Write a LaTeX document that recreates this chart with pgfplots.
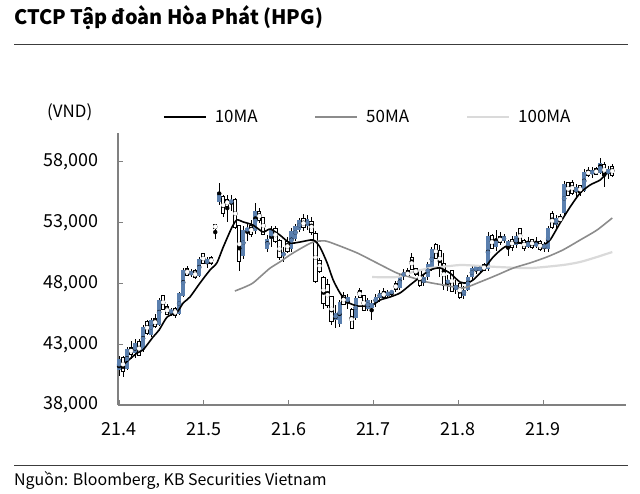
\documentclass[border=0pt]{standalone}
\usepackage{fontspec}
\setmainfont{Noto Sans CJK KR}
\usepackage{pgfplots}
\pgfplotsset{compat=1.18}
\usepackage{pgfplotstable}

\definecolor{candleblue}{RGB}{90,127,174}
\definecolor{maB}{RGB}{140,140,140}
\definecolor{maC}{RGB}{218,218,218}
\definecolor{axisgray}{RGB}{128,128,128}
\definecolor{rulegray}{RGB}{60,60,60}

% daily candles: trading day, open, high, low, close
\pgfplotstableread{
d o h l c
0 40900 42000 40400 41800
1 41800 42000 40300 40900
2 41000 42800 40900 42600
3 42600 43300 41800 42300
4 42300 43400 41900 43100
5 43100 43400 42000 42200
6 42500 44600 42400 44400
7 44700 45000 43800 44000
8 43800 45200 43600 45000
9 45000 45500 44300 44600
10 44600 46800 44500 46600
11 46900 47000 45800 46000
12 46000 46300 45400 45600
13 45600 46000 45300 45800
14 45800 46100 45200 45500
15 45500 47300 45400 47200
16 47000 49300 46900 49100
17 49100 49400 48600 48800
18 48800 49200 48500 48900
19 48900 49200 48400 48600
20 48600 50200 48500 50000
21 50300 50500 49600 49800
22 49600 50200 49300 50000
23 50000 50300 49500 49800
24 52700 52750 51700 52650
25 54700 56300 54500 55500
26 55000 55300 53500 53900
27 54800 55300 53100 54500
28 54600 55300 54000 54900
29 54800 55000 52500 52700
30 52600 52800 49000 49900
31 50300 52700 50000 52400
32 52300 53000 51500 52600
33 52600 53200 51800 52200
34 52300 54600 52100 54000
35 53800 54200 53000 53300
36 53300 53500 52000 52200
37 50800 52000 50600 51700
38 51700 52700 51000 52400
39 52400 52700 51300 51600
40 51400 51700 49900 50300
41 50300 51000 49800 50500
42 51300 51800 50500 50800
43 50800 52600 50600 52300
44 51700 52900 51500 52700
45 52400 53400 52200 53200
46 53200 53700 52300 52700
47 52700 53600 52400 53300
48 53000 53500 52000 52300
49 52000 52300 48000 48300
50 49800 50100 48900 49100
51 48400 48600 45900 46500
52 47800 48400 46000 46300
53 46800 47000 44600 45000
54 45000 46200 44300 45600
55 44700 46600 44400 46500
56 46900 47300 46200 46400
57 46400 47100 45900 46900
58 45700 46000 44300 44400
59 45200 47000 45000 46800
60 47300 47600 46900 47000
61 46900 47000 45800 45900
62 45900 46800 45700 46600
63 46000 46600 45000 46400
64 46400 47100 46100 46900
65 46800 47500 46500 47200
66 47200 47600 46800 47000
67 47000 47500 46800 47300
68 47200 47500 46900 47400
69 47900 48200 47300 47600
70 47600 48800 47500 48600
71 48600 49200 48300 48900
72 48900 49300 48500 48700
73 50000 50500 49100 49300
74 49100 49300 48600 48900
75 48900 49000 47700 48000
76 48000 48700 47800 48500
77 48500 49800 48300 49600
78 49200 51000 49000 50800
79 51100 51300 50000 50200
80 50600 51200 48500 49500
81 49500 50500 47500 48000
82 48000 48700 47400 48300
83 48900 49100 47300 47500
84 47500 48300 47100 47900
85 47900 48000 46700 47000
86 47000 47800 46700 47500
87 47500 48700 47400 48500
88 48500 49500 48300 49300
89 49000 49500 48800 49400
90 49000 49500 48900 49400
91 49400 49700 49000 49200
92 49200 52200 49000 51900
93 51800 52100 50800 51000
94 51000 52400 50700 51700
95 51700 52200 51200 51500
96 51500 52100 51300 51900
97 51000 51600 50300 51500
98 51500 51900 50700 51100
99 51200 52200 50900 51900
100 52400 52600 51300 51400
101 51400 51700 50700 51000
102 51000 51800 50900 51500
103 51500 51700 50800 51100
104 51100 51800 50900 51300
105 51300 51600 50700 50900
106 50900 51400 50600 51200
107 50800 52700 50600 52600
108 53600 54000 52500 52700
109 52800 53600 52500 53400
110 53400 53700 53000 53200
111 53800 56400 53600 56200
112 56200 56300 55200 55400
113 56200 56500 55300 55500
114 55500 56200 55100 55900
115 55900 56100 55200 55600
116 55600 57400 55500 57200
117 57200 57600 56800 57000
118 57000 57600 56700 57300
119 57300 57600 56900 57100
120 57100 58300 57000 57900
121 57700 58000 55900 57000
122 57000 57700 56600 57400
123 57500 57800 56800 57000
}\candles

\pgfplotstableread{
d v
1 41300
4.5 42280
6 42530
8.5 43600
10 44170
12 45240
14.5 45650
16 46390
17.7 46890
20.2 48040
22.7 49110
24.4 49690
26 51000
28.2 52650
29.4 53230
31 53060
33.4 52810
35.9 52240
37.7 52480
40.1 51990
42.6 51330
45.1 51410
48.4 51580
50.1 51000
51.9 49690
53.4 48290
55.1 47220
56.9 46480
59.4 46150
61.8 46150
63.3 46230
65.1 46640
67.6 46890
70.1 47220
72.6 47880
75.1 48530
77.6 49110
80.0 49280
82.5 48860
85.0 48120
86.8 48040
88.3 48290
90.8 49110
93.3 50180
95.8 50920
98.3 51330
100.7 51330
103.2 51170
105.7 51170
107.5 51580
110 52980
112.5 54300
115 55450
117.5 56110
120 56520
121.7 57090
123 57180
}\maten

\pgfplotstableread{
d v
28.9 47380
31.4 47710
33.4 48040
35.7 48700
37.7 49270
40.1 49770
42.6 50340
45.1 50840
48.4 51410
51.4 51500
54.4 51170
59.4 50510
64.3 49690
69.3 48860
72.6 48530
76.8 48120
80.8 47880
85.8 47630
90 48120
94.3 48700
98.3 49270
102.5 49690
106.7 50180
110.7 50760
115 51580
119.2 52400
123 53390
}\mafifty

\pgfplotstableread{
d v
63.1 48530
69.3 48530
73.3 48950
77.6 49270
82.5 49440
85.8 49520
94.3 49360
102.5 49270
110.7 49520
115 49770
119.2 50180
123 50590
}\mahundred

\begin{document}
\begin{tikzpicture}
\path[use as bounding box] (0,0) rectangle (640bp,494bp);
\node[anchor=west, inner sep=0pt, font=\fontsize{20}{24}\selectfont\bfseries] at (14bp,476bp) {CTCP Tập đoàn Hòa Phát (HPG)};
\draw[rulegray, line width=0.9bp] (14bp,450bp) -- (628bp,450bp);
\draw[rulegray, line width=0.9bp] (14bp,29bp) -- (628bp,29bp);
\node[anchor=west, inner sep=0pt, font=\fontsize{16}{19}\selectfont] at (14bp,13bp) {Nguồn: Bloomberg, KB Securities Vietnam};
\node[anchor=west, inner sep=0pt, font=\fontsize{17}{20}\selectfont] at (47bp,382bp) {(VND)};

\begin{axis}[
  at={(118bp,89bp)}, anchor=south west,
  scale only axis, width=508.3bp, height=272.2bp,
  xmin=-0.25, xmax=126.5, ymin=38000, ymax=60400,
  clip=false,
  scaled y ticks=false,
  axis x line*=bottom, axis y line*=left,
  axis line style={axisgray, line width=1.1bp},
  tick align=inside, major tick length=5bp,
  tick style={axisgray, line width=1bp},
  xtick={0,21.15,42.3,63.45,84.6,105.75},
  xticklabels={21.4,21.5,21.6,21.7,21.8,21.9},
  ytick={38000,43000,48000,53000,58000},
  yticklabels={{38,000},{43,000},{48,000},{53,000},{58,000}},
  tick label style={font=\fontsize{18}{21}\selectfont},
  xticklabel style={yshift=-14bp},
  yticklabel style={xshift=-16bp},
  /pgf/number format/assume math mode=true,
  legend columns=3, reverse legend,
  legend style={draw=none, fill=none, inner sep=0pt, at={(0.0885,1)}, anchor=west, yshift=16bp,
    font=\fontsize{17}{20}\selectfont,
    /tikz/every odd column/.append style={column sep=6bp},
    /tikz/every even column/.append style={column sep=55bp}},
  legend image code/.code={\draw[#1] (0bp,0bp) -- (42bp,0bp);},
]
% wicks
\addplot[black, only marks, mark=none, forget plot,
  error bars/.cd, y dir=both, y explicit, error mark=none,
  error bar style={line width=0.8bp, black}]
  table[x=d, y expr={(\thisrow{h}+\thisrow{l})/2}, y error expr={(\thisrow{h}-\thisrow{l})/2}] {\candles};
% rising bodies
\addplot[candleblue, only marks, mark=none, forget plot,
  restrict expr to domain={\thisrow{c}-\thisrow{o}}{0:100000},
  error bars/.cd, y dir=both, y explicit, error mark=none,
  error bar style={line width=4bp, candleblue}]
  table[x=d, y expr={(\thisrow{o}+\thisrow{c})/2}, y error expr={abs(\thisrow{c}-\thisrow{o})/2}] {\candles};
% falling bodies: outline then white fill
\addplot[black, only marks, mark=none, forget plot,
  restrict expr to domain={\thisrow{c}-\thisrow{o}}{-100000:-1},
  error bars/.cd, y dir=both, y explicit, error mark=none,
  error bar style={line width=4.2bp, line cap=rect, black}]
  table[x=d, y expr={(\thisrow{o}+\thisrow{c})/2}, y error expr={abs(\thisrow{c}-\thisrow{o})/2}] {\candles};
\addplot[white, only marks, mark=none, forget plot,
  restrict expr to domain={\thisrow{c}-\thisrow{o}}{-100000:-1},
  error bars/.cd, y dir=both, y explicit, error mark=none,
  error bar style={line width=2.2bp, line cap=rect, white}]
  table[x=d, y expr={(\thisrow{o}+\thisrow{c})/2}, y error expr={abs(\thisrow{c}-\thisrow{o})/2}] {\candles};

\addplot[maC, line width=2.2bp, smooth, tension=0.4] table[x=d, y=v] {\mahundred};
\addlegendentry{100MA}
\addplot[maB, line width=1.6bp, smooth, tension=0.4] table[x=d, y=v] {\mafifty};
\addlegendentry{50MA}
\addplot[black, line width=1.6bp, smooth, tension=0.4] table[x=d, y=v] {\maten};
\addlegendentry{10MA}
\end{axis}
\end{tikzpicture}
\end{document}
